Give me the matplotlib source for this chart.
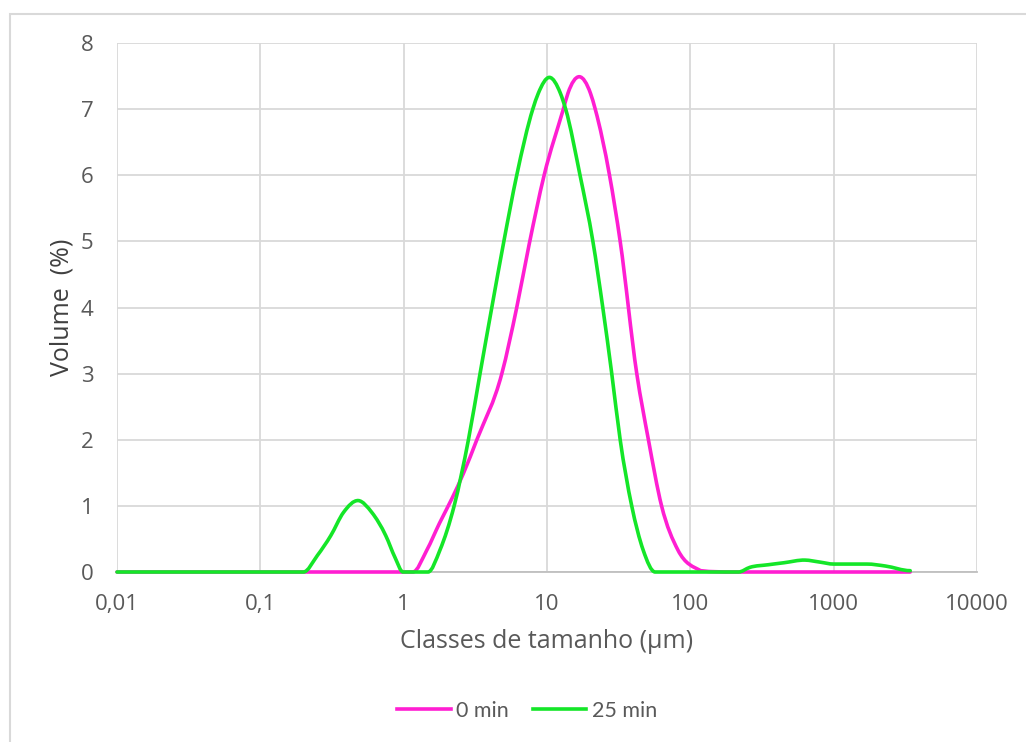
import numpy as np
import matplotlib
matplotlib.use("Agg")
import matplotlib.pyplot as plt
from matplotlib.path import Path
from matplotlib.patches import PathPatch, Rectangle
from matplotlib.lines import Line2D

# Particle size distribution (laser diffraction), volume % per size class
size_0min = [0.01, 0.1, 0.5, 1.0, 1.16, 1.45, 1.78, 2.17, 2.61, 3.24, 4.84, 6.15,
             7.5, 9.55, 13.0, 14.0, 16.8, 20.1, 21.7, 27.3, 32.4, 42.3, 51.0, 63.0,
             82.0, 118.0, 200.0, 1000.0, 3420.0]
vol_0min = [0.0, 0.0, 0.0, 0.0, 0.0, 0.33, 0.74, 1.11, 1.49, 2.0, 3.0, 4.0,
            4.95, 6.0, 7.0, 7.24, 7.49, 7.24, 7.0, 6.0, 5.0, 3.0, 2.0, 1.0,
            0.33, 0.02, 0.0, 0.0, 0.0]

size_25min = [0.01, 0.1, 0.2, 0.25, 0.31, 0.38, 0.483, 0.60, 0.75, 0.87, 0.99,
              1.2, 1.48, 1.79, 2.25, 2.83, 3.41, 4.12, 5.0, 6.15, 7.96, 8.7, 10.4,
              12.4, 13.5, 17.0, 20.9, 24.5, 28.3, 32.4, 39.0, 46.9, 56.8, 100.0,
              217.0, 260.0, 350.0, 450.0, 632.0, 800.0, 1000.0, 1300.0, 1706.0,
              2300.0, 3420.0]
vol_25min = [0.0, 0.0, 0.0, 0.25, 0.55, 0.9, 1.08, 0.9, 0.55, 0.22, 0.0,
             0.0, 0.0, 0.33, 1.0, 2.0, 3.0, 4.0, 5.0, 6.0, 7.0, 7.24, 7.48,
             7.24, 7.0, 6.0, 5.0, 4.0, 3.0, 2.0, 1.0, 0.33, 0.0, 0.0,
             0.0, 0.07, 0.11, 0.14, 0.18, 0.15, 0.12, 0.12, 0.12,
             0.09, 0.02]

series_labels = ["0 min", "25 min"]
series_colors = ["#FF1ED2", "#14E628"]
x_ticks = [0.01, 0.1, 1, 10, 100, 1000, 10000]
x_tick_labels = ["0,01", "0,1", "1", "10", "100", "1000", "10000"]
y_ticks = [0, 1, 2, 3, 4, 5, 6, 7, 8]


def smooth_path(xs, ys):
    """Smoothed line through the points: cubic Hermite Bezier segments in log-x space."""
    lx = np.log10(np.asarray(xs, float))
    y = np.asarray(ys, float)
    n = len(lx)
    h = np.diff(lx)
    d = np.diff(y) / h
    m = np.zeros(n)
    for i in range(1, n - 1):
        if d[i - 1] != 0 and d[i] != 0:
            m[i] = (h[i] * d[i - 1] + h[i - 1] * d[i]) / (h[i - 1] + h[i])
    verts = [(xs[0], y[0])]
    codes = [Path.MOVETO]
    for i in range(n - 1):
        c1 = (lx[i] + h[i] / 3, max(y[i] + m[i] * h[i] / 3, 0.0))
        c2 = (lx[i + 1] - h[i] / 3, max(y[i + 1] - m[i + 1] * h[i] / 3, 0.0))
        verts += [(10 ** c1[0], c1[1]), (10 ** c2[0], c2[1]), (10 ** lx[i + 1], y[i + 1])]
        codes += [Path.CURVE4] * 3
    return Path(verts, codes)


fig = plt.figure(figsize=(10.26, 7.42), dpi=100)
W, H = 1026, 742
ax = fig.add_axes([117 / W, 1 - 572 / H, (977 - 117) / W, (572 - 43) / H])

# chart area frame
fig.patches.append(Rectangle((9.5 / W, -0.05), 1.1, 1 - 13.5 / H + 0.05,
                             transform=fig.transFigure, fill=False,
                             edgecolor="#D9D9D9", linewidth=1.5))

ax.set_xscale("log")
ax.set_xlim(0.01, 10000)
ax.set_ylim(0, 8)

for xs, ys, col in zip([size_0min, size_25min], [vol_0min, vol_25min], series_colors):
    ax.add_patch(PathPatch(smooth_path(xs, ys), facecolor="none", edgecolor=col,
                           linewidth=2.6, capstyle="round", joinstyle="round",
                           clip_on=False, zorder=3))

ax.set_xticks(x_ticks)
ax.set_xticklabels(x_tick_labels)
ax.xaxis.set_minor_locator(matplotlib.ticker.NullLocator())
ax.set_yticks(y_ticks)
ax.grid(True, color="#D9D9D9", linewidth=1.3)
ax.set_axisbelow(True)
for s in ["top", "right", "left"]:
    ax.spines[s].set_visible(False)
ax.spines["bottom"].set_color("#BFBFBF")
ax.spines["bottom"].set_linewidth(1.3)
ax.tick_params(length=0, labelsize=16, labelcolor="#595959")
ax.tick_params(axis="x", pad=16)
ax.tick_params(axis="y", pad=17)
for lab in ax.get_xticklabels() + ax.get_yticklabels():
    lab.set_family("Open Sans")

ax.set_xlabel("Classes de tamanho (µm)", fontsize=18, color="#595959",
              family="Open Sans")
ax.xaxis.set_label_coords(0.5, (572 - 641) / 529)
ax.xaxis.label.set_va("center")
ax.set_ylabel("Volume  (%)", fontsize=18, color="#404040", family="Open Sans")
ax.yaxis.set_label_coords((62 - 117) / 860, 0.5)
ax.yaxis.label.set_va("center")

handles = [Line2D([0], [0], color=c, linewidth=2.6) for c in series_colors]
fig.legend(handles, series_labels, loc="center", bbox_to_anchor=(527 / W, 1 - 711 / H),
           ncol=2, frameon=False, handlelength=2.5, handletextpad=0.25,
           columnspacing=1.1, prop={"family": "Lato", "size": 15.5},
           labelcolor="#595959")

fig.savefig("out.png", dpi=100, facecolor="white")
